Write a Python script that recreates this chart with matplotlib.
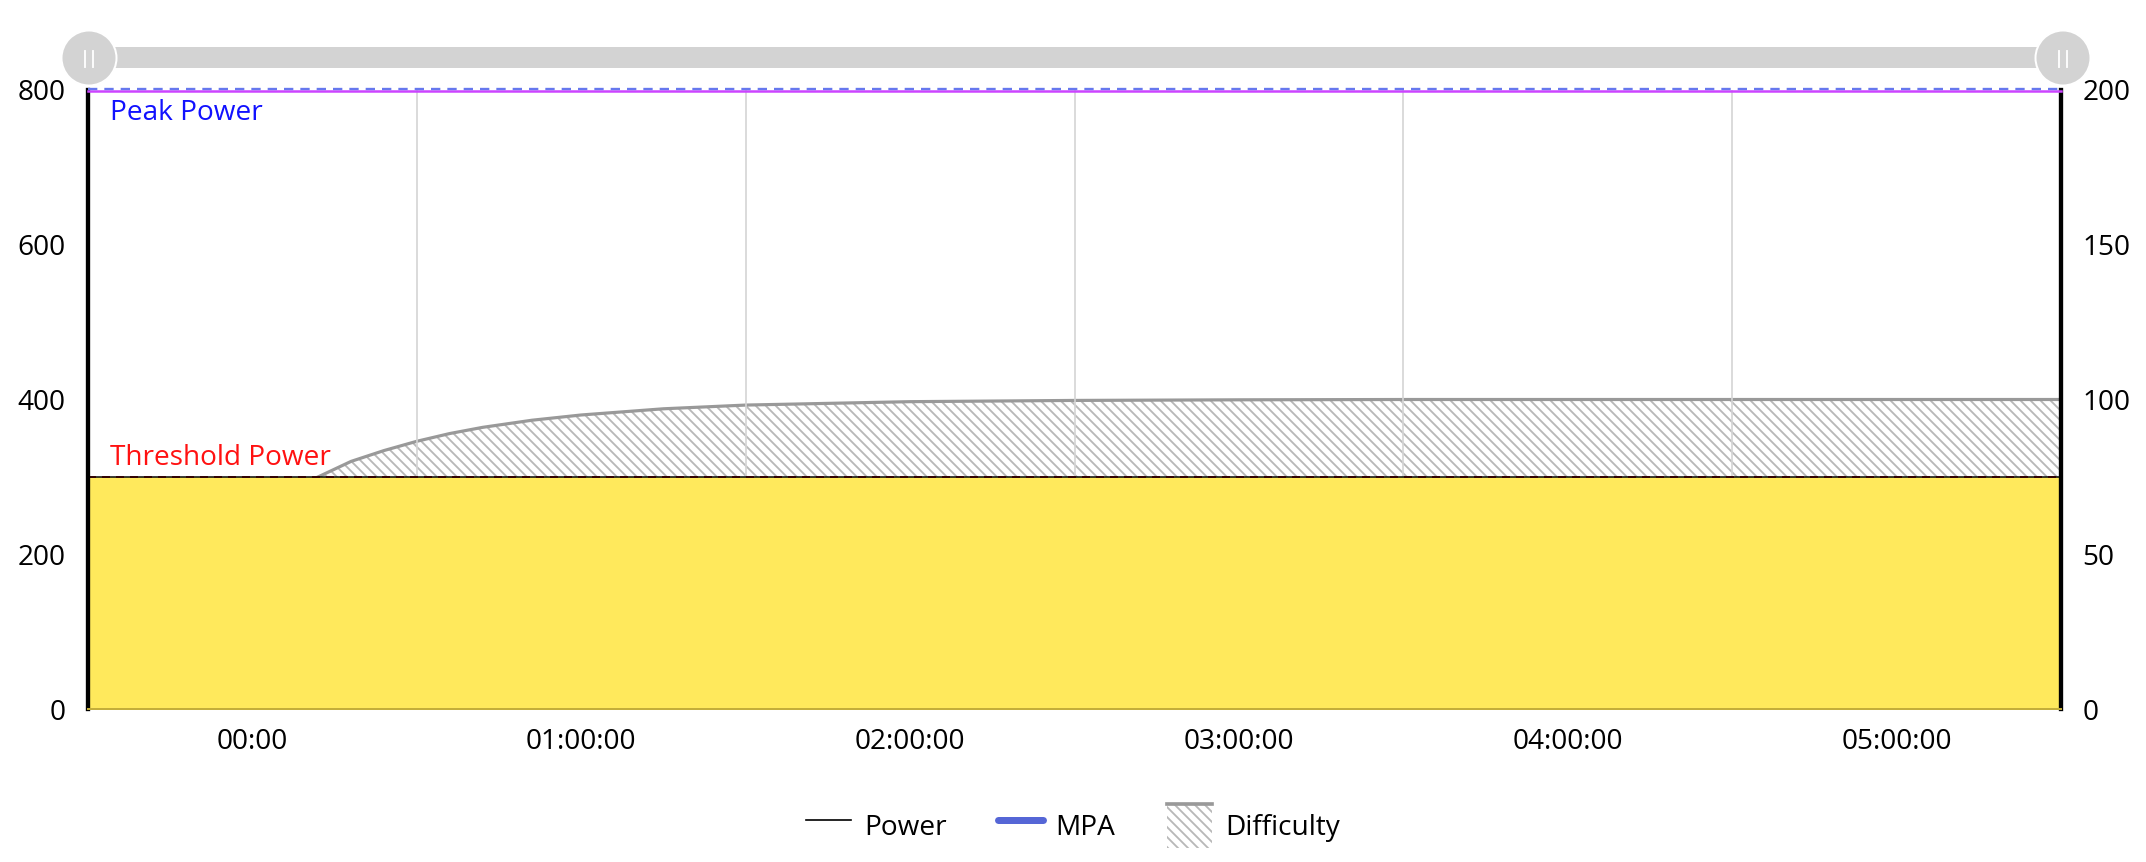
import matplotlib.pyplot as plt
from matplotlib.patches import Rectangle, Circle
from matplotlib.lines import Line2D
from matplotlib.legend_handler import HandlerBase
from matplotlib import transforms

# ---------- data ----------
time_h = [0, 6]
power = [300, 300]
mpa = [800, 800]
peak_power = 800
threshold_power = 300

diff_time = [0, 0.25, 0.5, 0.6, 0.7, 0.8, 0.9, 1.0, 1.1, 1.2, 1.35, 1.5,
             1.75, 2.0, 2.5, 3.0, 3.5, 4.0, 5.0, 6.0]
difficulty = [0, 39, 63, 70, 75, 80, 83.5, 86.5, 89, 91, 93.3, 95,
              97, 98.2, 99.3, 99.7, 99.9, 100, 100, 100]

x_tick_pos = [0.5, 1.5, 2.5, 3.5, 4.5, 5.5]
x_tick_labels = ['00:00', '01:00:00', '02:00:00', '03:00:00', '04:00:00', '05:00:00']
grid_pos = [1, 2, 3, 4, 5]
left_ticks = [0, 200, 400, 600, 800]
right_ticks = [0, 50, 100, 150, 200]

# ---------- style ----------
plt.rcParams['font.family'] = ['Open Sans', 'DejaVu Sans']
plt.rcParams['hatch.linewidth'] = 1.1
FS = 16.8
HATCH = '\\' * 4
W, H, DPI = 2146, 862, 120

fig = plt.figure(figsize=(W / DPI, H / DPI), dpi=DPI)
ax = fig.add_axes([88 / W, 1 - 709 / H, (2061 - 88) / W, (709 - 90) / H])
ax2 = ax.twinx()
ax.set_zorder(2)
ax2.set_zorder(1)
ax.patch.set_visible(False)

# difficulty (right axis), hatched
ax2.fill_between(diff_time, difficulty, 0, facecolor='none', edgecolor='#b8b8b8',
                 hatch=HATCH, lw=0)
ax2.plot(diff_time, difficulty, color='#999999', lw=1.9, solid_capstyle='butt')
ax2.set_ylim(0, 200)
ax2.set_yticks(right_ticks)

# power (left axis)
ax.fill_between(time_h, power, 0, color='#ffe95c', lw=0, zorder=1)
ax.plot(time_h, [threshold_power] * 2, color='#cc1111', lw=1.2, ls=(0, (4, 3)), zorder=2)
ax.plot(time_h, power, color='black', lw=0.9, zorder=3)

# peak power + MPA at the top
down = transforms.offset_copy(ax.transData, fig=fig, x=0, y=-1.2, units='dots')
up = transforms.offset_copy(ax.transData, fig=fig, x=0, y=1.2, units='dots')
ax.plot(time_h, [peak_power] * 2, color='#cc44ff', lw=1.5, transform=down,
        clip_on=False, zorder=3)
ax.plot(time_h, mpa, color='#6677ee', lw=1.4, ls=(0, (4, 3)), transform=up,
        clip_on=False, zorder=4)

ax.set_xlim(0, 6)
ax.set_ylim(0, 800)
ax.set_yticks(left_ticks)
ax.set_xticks(x_tick_pos)
ax.set_xticklabels(x_tick_labels)
ax.set_xticks(grid_pos, minor=True)
ax.set_axisbelow(True)
ax.grid(True, which='minor', axis='x', color='#d4d4d4', lw=1)
ax.grid(False, which='major')

ax.tick_params(axis='x', which='both', length=0, pad=11.5, labelsize=FS)
ax.tick_params(axis='y', length=0, pad=13.5, labelsize=FS)
ax2.tick_params(axis='y', length=0, pad=13, labelsize=FS)

ax.spines['top'].set_visible(False)
for s in ['top', 'left', 'right', 'bottom']:
    ax2.spines[s].set_visible(False)
ax.spines['left'].set_linewidth(2.6)
ax.spines['right'].set_linewidth(2.6)
ax.spines['right'].set_color('black')
ax.spines['bottom'].set_color('#c4ae3a')
ax.spines['bottom'].set_linewidth(1.2)

ax.annotate('Peak Power', xy=(0, peak_power), xycoords=('axes fraction', 'data'),
            xytext=(13.2, -5.3), textcoords='offset points', va='top', ha='left',
            color='#1111ff', fontsize=FS)
ax.annotate('Threshold Power', xy=(0, threshold_power), xycoords=('axes fraction', 'data'),
            xytext=(13.2, 7), textcoords='offset points', va='baseline', ha='left',
            color='#ff1111', fontsize=FS)


# ---------- legend ----------
class HatchHandler(HandlerBase):
    def create_artists(self, legend, orig_handle, xdescent, ydescent, width, height,
                       fontsize, trans):
        r = Rectangle((-xdescent, -ydescent), width, height, facecolor='white',
                      edgecolor='#b8b8b8', hatch=HATCH, lw=0, transform=trans)
        top = Line2D([-xdescent, -xdescent + width], [height - ydescent] * 2,
                     color='#999999', lw=2.2, transform=trans)
        return [r, top]


h_power = Line2D([], [], color='black', lw=1.0)
h_mpa = Line2D([], [], color='#5566d6', lw=4.2, solid_capstyle='round')
h_diff = Rectangle((0, 0), 1, 1)
fig.legend([h_power, h_mpa, h_diff], ['Power', 'MPA', 'Difficulty'],
           handler_map={Rectangle: HatchHandler()},
           loc='center', bbox_to_anchor=(0.5, 1 - 826 / H), ncol=3, frameon=False,
           fontsize=FS, handlelength=1.6, handleheight=2.0, handletextpad=0.45,
           columnspacing=1.85, borderpad=0)

# ---------- range slider on top ----------
ov = fig.add_axes([0, 0, 1, 1], zorder=10)
ov.set_xlim(0, W)
ov.set_ylim(H, 0)
ov.axis('off')
ov.patch.set_visible(False)
ov.add_patch(Rectangle((89, 47), 2061 - 89, 21, facecolor='#d3d3d3', lw=0))
for cx in [89, 2063]:
    ov.add_patch(Circle((cx, 58), 27.5, facecolor='#d3d3d3', edgecolor='white', lw=1.2))
    for dx in [-4, 4]:
        ov.plot([cx + dx, cx + dx], [51, 67], color='white', lw=1.1)

fig.savefig('out.png', dpi=DPI)
